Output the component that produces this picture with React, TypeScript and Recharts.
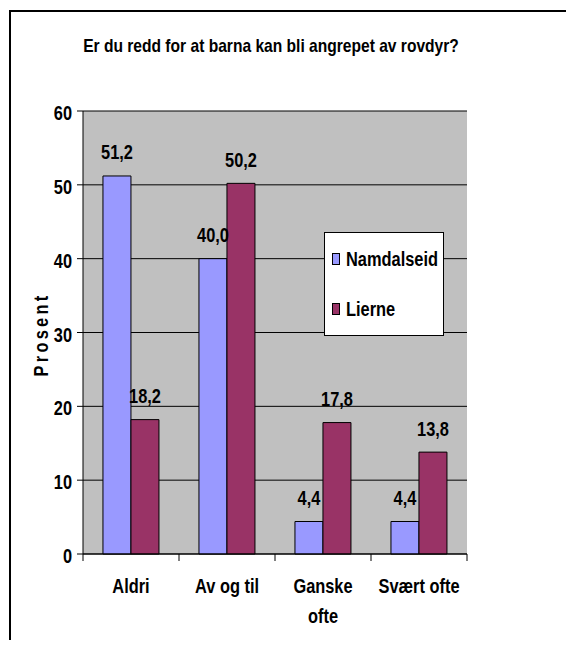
import { BarChart, Bar, XAxis, YAxis, CartesianGrid, Legend, LabelList } from 'recharts';

const categories = ['Aldri', 'Av og til', 'Ganske\nofte', 'Svært ofte'];
const namdalseid = [51.2, 40.0, 4.4, 4.4];
const lierne = [18.2, 50.2, 17.8, 13.8];
const yTicks = [0, 10, 20, 30, 40, 50, 60];

const series = [
  { key: 'Namdalseid', color: '#9999FF' },
  { key: 'Lierne', color: '#993366' },
];

const W = 574;
const H = 648;
const MARGIN = { top: 111, right: 107, bottom: 64, left: 0 };
const Y_AXIS_W = 83;
const PLOT_W = W - MARGIN.left - MARGIN.right - Y_AXIS_W;

// no Arial Narrow here, so squeeze Liberation Sans horizontally
const FONT = "'Liberation Sans', Arial, sans-serif";
const SQUEEZE = 0.82;

const data = categories.map((c, i) => ({
  name: c,
  Namdalseid: namdalseid[i],
  Lierne: lierne[i],
}));

const fmt = (v: any) => Number(v).toFixed(1).replace('.', ',');

function Narrow({ x, y, anchor = 'middle', rotate = 0, spacing = 0, children }: any) {
  return (
    <text
      transform={`translate(${x}, ${y}) rotate(${rotate}) scale(${SQUEEZE}, 1)`}
      textAnchor={anchor}
      fontFamily={FONT}
      fontWeight="bold"
      fontSize={20}
      letterSpacing={spacing}
      fill="#000"
    >
      {children}
    </text>
  );
}

function CategoryTick(props: any) {
  const { x, y, payload, index } = props;
  const band = PLOT_W / categories.length;
  const lines = String(payload.value).split('\n');
  return (
    <g>
      <line x1={x - band / 2} x2={x - band / 2} y1={y} y2={y + 7} stroke="#000" />
      {index === categories.length - 1 && (
        <line x1={x + band / 2} x2={x + band / 2} y1={y} y2={y + 7} stroke="#000" />
      )}
      {lines.map((l, i) => (
        <Narrow key={i} x={x} y={y + 39 + i * 30}>
          {l}
        </Narrow>
      ))}
    </g>
  );
}

function ValueTick(props: any) {
  const { x, y, payload } = props;
  return (
    <Narrow x={x} y={y + 9} anchor="end">
      {payload.value}
    </Narrow>
  );
}

function YLabel(props: any) {
  const { viewBox } = props;
  const cy = viewBox.y + viewBox.height / 2;
  return (
    <Narrow x={48} y={cy + 2} rotate={-90} spacing={4}>
      Prosent
    </Narrow>
  );
}

function BarValue(props: any) {
  const { x, y, width, value } = props;
  return (
    <Narrow x={Number(x) + Number(width) / 2} y={Number(y) - 16.5}>
      {fmt(value)}
    </Narrow>
  );
}

function LegendBox() {
  return (
    <div style={{ position: 'relative', width: '100%', height: '100%' }}>
      {series.map((s, i) => (
        <div
          key={s.key}
          style={{
            position: 'absolute',
            left: 7,
            top: 14 + i * 50,
            height: 24,
            display: 'flex',
            alignItems: 'center',
            whiteSpace: 'nowrap',
          }}
        >
          <span
            style={{
              display: 'inline-block',
              width: 6,
              height: 10,
              background: s.color,
              border: '1px solid #000',
              marginRight: 6,
            }}
          />
          <span
            style={{
              display: 'inline-block',
              fontFamily: FONT,
              fontWeight: 'bold',
              fontSize: 20,
              color: '#000',
              transform: `scaleX(${SQUEEZE})`,
              transformOrigin: 'left center',
            }}
          >
            {s.key}
          </span>
        </div>
      ))}
    </div>
  );
}

export default function App() {
  return (
    <div style={{ position: 'relative', width: W, height: H, margin: -8, overflow: 'hidden', background: '#fff' }}>
      <div
        style={{
          position: 'absolute',
          left: 9,
          top: 10,
          width: W + 20,
          height: H + 20,
          borderLeft: '2px solid #000',
          borderTop: '2px solid #000',
        }}
      />
      <div
        style={{
          position: 'absolute',
          left: 0,
          top: 36,
          width: 542,
          textAlign: 'center',
          fontFamily: FONT,
          fontWeight: 'bold',
          fontSize: 19,
          lineHeight: '20px',
          color: '#000',
          transform: `scaleX(${SQUEEZE})`,
          transformOrigin: '271px 50%',
        }}
      >
        Er du redd for at barna kan bli angrepet av rovdyr?
      </div>
      <div style={{ position: 'absolute', left: 0, top: 0 }}>
        <BarChart
          width={W}
          height={H}
          data={data}
          margin={MARGIN}
          barCategoryGap="20.8%"
          barGap={0}
        >
          <CartesianGrid horizontal vertical={false} stroke="#000" fill="#C0C0C0" fillOpacity={1} />
          <XAxis
            dataKey="name"
            interval={0}
            tickLine={false}
            tickSize={0}
            tickMargin={0}
            axisLine={{ stroke: '#000' }}
            tick={<CategoryTick />}
          />
          <YAxis
            width={Y_AXIS_W}
            domain={[0, 60]}
            ticks={yTicks}
            interval={0}
            tickSize={6}
            tickMargin={5}
            tickLine={{ stroke: '#000' }}
            axisLine={{ stroke: '#000' }}
            tick={<ValueTick />}
            label={<YLabel />}
          />
          <YAxis
            yAxisId="right"
            orientation="right"
            width={0}
            domain={[0, 60]}
            tick={false}
            tickLine={false}
            axisLine={{ stroke: '#808080' }}
          />
          <Legend
            layout="vertical"
            align="center"
            verticalAlign="middle"
            wrapperStyle={{
              left: 324,
              top: 232,
              width: 120,
              height: 104,
              boxSizing: 'border-box',
              border: '1px solid #000',
              background: '#fff',
            }}
            content={() => <LegendBox />}
          />
          {series.map((s) => (
            <Bar
              key={s.key}
              dataKey={s.key}
              fill={s.color}
              stroke="#000"
              strokeWidth={1}
              isAnimationActive={false}
            >
              <LabelList dataKey={s.key} content={<BarValue />} />
            </Bar>
          ))}
        </BarChart>
      </div>
    </div>
  );
}
